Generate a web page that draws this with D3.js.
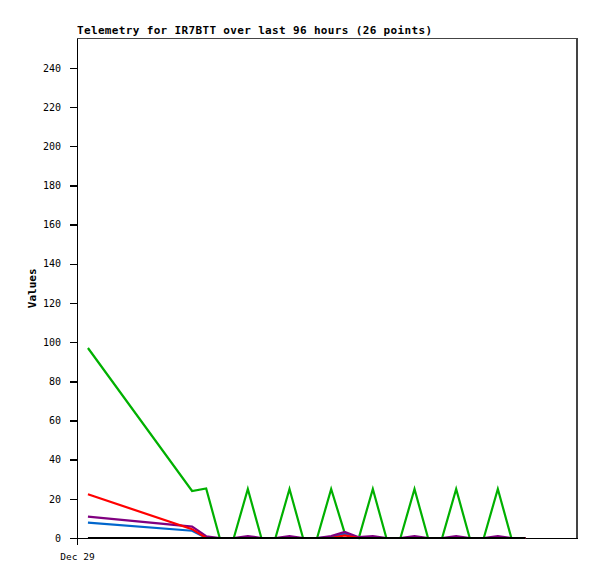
<!DOCTYPE html>
<html><head><meta charset="utf-8">
<script src="https://cdn.jsdelivr.net/npm/d3@7"></script>
<style>
html,body{margin:0;padding:0;background:#fff;}
svg{display:block;}
</style></head>
<body>
<svg id="chart" width="597" height="579"></svg>
<script>
// ---- data ----
const titleText = "Telemetry for IR7BTT over last 96 hours (26 points)";
const yLabel = "Values";
// hours since Dec 29 00:00
const hours = [2.1, 22.1, 24.8, 27.4, 30.1, 32.8, 35.4, 38.1, 40.8, 43.4, 46.1, 48.8, 51.4,
               54.1, 56.8, 59.4, 62.1, 64.8, 67.4, 70.1, 72.8, 75.4, 78.1, 80.8, 83.4, 86.1];
const greenVals  = [97, 24, 25.3, 0, 0, 25, 0, 0, 25, 0, 0, 25, 2.5, 0, 25, 0, 0, 25, 0, 0, 25, 0, 0, 25, 0, 0];
const blueVals   = [7.8, 3.7, 0, 0, 0, 0, 0, 0, 0, 0, 0, 0.3, 2.2, 0, 0, 0, 0, 0, 0, 0, 0, 0, 0, 0, 0, 0];
const purpleVals = [10.9, 5.8, 0.9, 0, 0, 1, 0, 0, 1, 0, 0, 1, 3.1, 0.4, 1, 0, 0, 1, 0, 0, 1, 0, 0, 1, 0, 0];
const redVals    = [22.3, 4.5, 0, 0, 0, 0, 0, 0, 0, 0, 0, 0, 1.3, 0, 0, 0, 0, 0, 0, 0, 0, 0, 0, 0, 0, 0];
const blackVals  = [0, 0, 0, 0, 0, 0, 0, 0, 0, 0, 0, 0, 0, 0, 0, 0, 0, 0, 0, 0, 0, 0, 0, 0, 0, 0];
const yTicks = [0, 20, 40, 60, 80, 100, 120, 140, 160, 180, 200, 220, 240];
const xTickHours = [0];
const xTickLabels = ["Dec 29"];

const series = [
  {name: "green",  color: "#00b000", values: greenVals},
  {name: "blue",   color: "#0066cc", values: blueVals},
  {name: "purple", color: "#800080", values: purpleVals},
  {name: "red",    color: "#ff0000", values: redVals},
  {name: "black",  color: "#000000", values: blackVals}
];

// ---- layout ----
const L = 77, R = 577, T = 38.5, B = 538;
const svg = d3.select("#chart");
const x = d3.scaleLinear().domain([0, 96]).range([L, R]);
const y = d3.scaleLinear().domain([0, 255]).range([B, T]);
const mono = "'DejaVu Sans Mono', 'Liberation Mono', monospace";

// frame (top & right gray)
svg.append("path")
  .attr("d", `M${L},${T}H${R}V${B}`)
  .attr("fill", "none").attr("stroke", "#444").attr("stroke-width", 1.2)
  .attr("shape-rendering", "crispEdges");

// y axis
const yAxis = d3.axisLeft(y).tickValues(yTicks).tickSizeInner(7).tickSizeOuter(0).tickPadding(9).tickFormat(d3.format("d"));
const gy = svg.append("g").attr("transform", `translate(${L},0)`).call(yAxis);
gy.select(".domain").attr("stroke", "#000").attr("stroke-width", 1.5).attr("shape-rendering", "crispEdges");
gy.selectAll(".tick line").attr("stroke", "#000").attr("stroke-width", 1.5).attr("shape-rendering", "crispEdges");
gy.selectAll(".tick text").attr("font-family", mono).attr("font-size", "10px").attr("fill", "#000");

// x axis
const xAxis = d3.axisBottom(x).tickValues(xTickHours).tickSizeInner(7).tickSizeOuter(0).tickPadding(8)
  .tickFormat((d, i) => xTickLabels[i]);
const gx = svg.append("g").attr("transform", `translate(0,${B})`).call(xAxis);
gx.select(".domain").attr("stroke", "#000").attr("stroke-width", 1.5).attr("shape-rendering", "crispEdges");
gx.selectAll(".tick line").attr("stroke", "#000").attr("stroke-width", 1.5).attr("shape-rendering", "crispEdges");
gx.selectAll(".tick text").attr("font-family", mono).attr("font-size", "9.5px").attr("fill", "#000");

// lines
const line = d3.line().x((d, i) => x(hours[i])).y(d => y(d));
svg.append("g").selectAll("path.series").data(series).join("path")
  .attr("class", "series")
  .attr("d", s => line(s.values))
  .attr("fill", "none")
  .attr("stroke", s => s.color)
  .attr("stroke-width", 2.2)
  .attr("stroke-linejoin", "miter");

// title
svg.append("text")
  .attr("x", L).attr("y", 34)
  .attr("font-family", mono).attr("font-weight", "bold").attr("font-size", "11px")
  .attr("textLength", 355).attr("lengthAdjust", "spacing")
  .attr("fill", "#000")
  .text(titleText);

// y label
svg.append("text")
  .attr("transform", `translate(36,${(T + B) / 2}) rotate(-90)`)
  .attr("text-anchor", "middle")
  .attr("font-family", mono).attr("font-weight", "bold").attr("font-size", "11px")
  .attr("fill", "#000")
  .text(yLabel);
</script>
</body></html>
